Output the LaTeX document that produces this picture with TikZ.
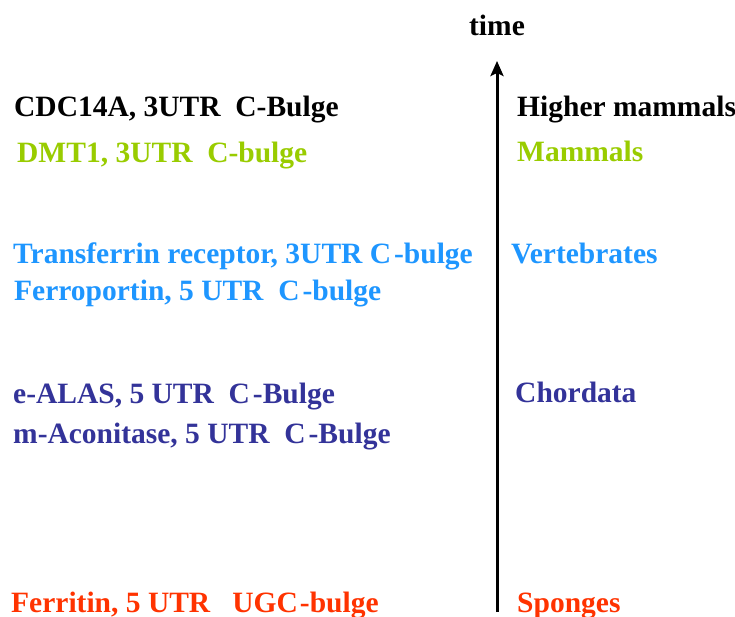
\documentclass[tikz,border=0pt]{standalone}
\usepackage{fontspec}
\setmainfont{Liberation Serif}
\usetikzlibrary{arrows.meta}
\definecolor{cblack}{RGB}{0,0,0}
\definecolor{cgreen}{RGB}{153,204,0}
\definecolor{cblue}{RGB}{30,150,255}
\definecolor{cdark}{RGB}{51,51,153}
\definecolor{cred}{RGB}{255,51,0}
\tikzset{
  lbl/.style={anchor=base west, inner sep=0pt, font=\fontsize{29.5}{31}\selectfont\bfseries},
  timeax/.style={line width=3pt, -{Stealth[length=15pt,width=13pt,inset=3pt]}}
}
\begin{document}
\begin{tikzpicture}[x=1pt,y=-1pt]
\path[use as bounding box, fill=white] (0,0) rectangle (735,617);
% axis
\coordinate (abot) at (497,612);
\coordinate (atop) at (497,61);
\draw[timeax] (abot) -- (atop);
\node[lbl, anchor=base] (time) at (497,36) {time};
% left labels
\node[lbl, text=cblack] (cdc) at (14,117) {CDC14A, 3UTR\ \ C-Bulge};
\node[lbl, text=cgreen] (dmt) at (17,163) {DMT1, 3UTR\ \ C-bulge};
\node[lbl, text=cblue] (tfr) at (13,263) {Transferrin receptor, 3UTR C\kern3pt-bulge};
\node[lbl, text=cblue] (fpn) at (14,300) {Ferroportin, 5 UTR\ \ C\kern3pt-bulge};
\node[lbl, text=cdark] (alas) at (13,403) {e-ALAS, 5 UTR\ \ C\kern3pt-Bulge};
\node[lbl, text=cdark] (acon) at (13,443) {m-Aconitase, 5 UTR\ \ C\kern3pt-Bulge};
\node[lbl, text=cred] (fer) at (11,612) {Ferritin, 5 UTR\ \ \ UGC\kern2pt-bulge};
% right labels
\node[lbl, text=cblack] (hm) at (517,117) {Higher mammals};
\node[lbl, text=cgreen] (mam) at (517,162) {Mammals};
\node[lbl, text=cblue] (vert) at (511,264) {Vertebrates};
\node[lbl, text=cdark] (chor) at (515,402) {Chordata};
\node[lbl, text=cred] (spo) at (517,612) {Sponges};
\end{tikzpicture}
\end{document}
